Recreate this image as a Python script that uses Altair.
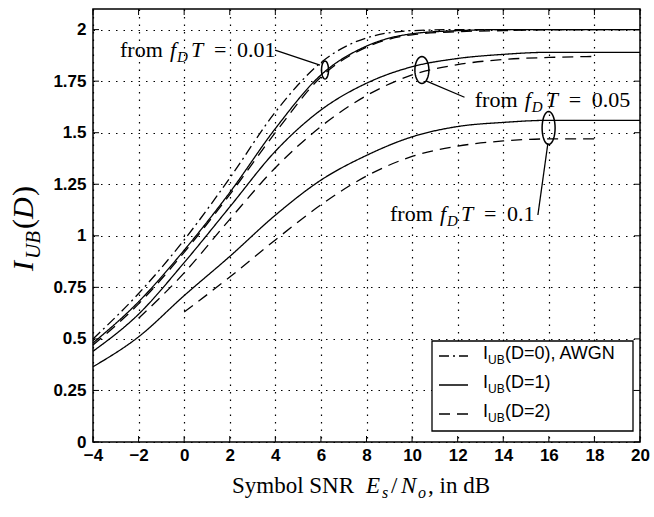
import math
import altair as alt
import pandas as pd

# ---------------- data ----------------
x_ticks = [-4, -2, 0, 2, 4, 6, 8, 10, 12, 14, 16, 18, 20]
y_ticks = [0, 0.25, 0.5, 0.75, 1, 1.25, 1.5, 1.75, 2]

snr_full = [-4, -2, 0, 2, 4, 6, 8, 10, 12, 14, 16, 18, 20]
snr_d2_001 = [-4, -2, 0, 2, 4, 6, 8, 10, 12, 14, 16, 18]
snr_d2_005 = [-2, 0, 2, 4, 6, 8, 10, 12, 14, 16, 18]
snr_d2_01 = [0, 2, 4, 6, 8, 10, 12, 14, 16, 18]

iub_awgn = [0.50, 0.72, 0.98, 1.28, 1.60, 1.84, 1.96, 1.995, 2.0, 2.0, 2.0, 2.0, 2.0]
iub_d1_001 = [0.48, 0.68, 0.93, 1.21, 1.52, 1.78, 1.92, 1.98, 1.995, 2.0, 2.0, 2.0, 2.0]
iub_d2_001 = [0.47, 0.67, 0.92, 1.20, 1.50, 1.77, 1.915, 1.975, 1.99, 1.995, 2.0, 2.0]
iub_d1_005 = [0.44, 0.62, 0.87, 1.14, 1.41, 1.61, 1.74, 1.82, 1.86, 1.88, 1.89, 1.89, 1.89]
iub_d2_005 = [0.60, 0.82, 1.08, 1.33, 1.53, 1.68, 1.78, 1.83, 1.855, 1.865, 1.87]
iub_d1_01 = [0.365, 0.51, 0.71, 0.90, 1.10, 1.27, 1.39, 1.48, 1.53, 1.55, 1.56, 1.56, 1.56]
iub_d2_01 = [0.63, 0.80, 0.98, 1.15, 1.29, 1.385, 1.435, 1.46, 1.47, 1.47]

curves = [
    ("awgn", "dashdot", snr_full, iub_awgn),
    ("d1_001", "solid", snr_full, iub_d1_001),
    ("d2_001", "dashed", snr_d2_001, iub_d2_001),
    ("d1_005", "solid", snr_full, iub_d1_005),
    ("d2_005", "dashed", snr_d2_005, iub_d2_005),
    ("d1_01", "solid", snr_full, iub_d1_01),
    ("d2_01", "dashed", snr_d2_01, iub_d2_01),
]

# annotations (data units)
ann_labels = ["0.01", "0.05", "0.1"]
ann_text_snr = [-2.815, 12.75, 9.03]
ann_text_val = [1.867, 1.625, 1.072]
ann_line_snr1 = [3.99, 10.61, 15.96]
ann_line_val1 = [1.901, 1.751, 1.450]
ann_line_snr2 = [5.96, 12.3, 15.52]
ann_line_val2 = [1.828, 1.672, 1.101]
ell_snr = [6.18, 10.43, 15.99]
ell_val = [1.804, 1.804, 1.523]
ell_w = [7, 14, 13]
ell_h = [18, 27, 33]

legend_labels = ["(D=0), AWGN", "(D=1)", "(D=2)"]
legend_styles = ["dashdot", "solid", "dashed"]

# ---------------- layout ----------------
W, H = 547, 433
PAD = {"left": 93, "top": 9, "right": 14, "bottom": 75}
SERIF = "Liberation Serif"
SANS = "Liberation Sans"
DASH = {"dashdot": [10, 4, 2, 4], "solid": [1, 0], "dashed": [11, 7]}

rows = []
for name, style, xs, ys in curves:
    for x, y in zip(xs, ys):
        rows.append({"curve": name, "style": style, "snr": x, "val": y})
df = pd.DataFrame(rows)

one = pd.DataFrame({"k": [0]})

xscale = alt.Scale(domain=[-4, 20], nice=False, zero=False)
yscale = alt.Scale(domain=[0, 2.1], nice=False, zero=False)

axis_common = dict(
    title=None, grid=True, tickSize=0, domain=False,
    labelFont=SANS, labelFontSize=17, labelFontWeight="bold", labelColor="black",
    gridColor="black", gridDash=[1.5, 6], gridOpacity=1, gridWidth=1.2,
    labelOverlap=False, labelFlush=False,
)

lines = alt.Chart(df).mark_line(color="black", strokeWidth=1.3, interpolate="monotone").encode(
    x=alt.X("snr:Q", scale=xscale,
            axis=alt.Axis(values=x_ticks, format="d", labelPadding=5, **axis_common)),
    y=alt.Y("val:Q", scale=yscale,
            axis=alt.Axis(values=y_ticks, labelExpr="datum.value + ''", labelPadding=7,
                          **axis_common)),
    detail="curve:N",
    strokeDash=alt.StrokeDash(
        "style:N",
        scale=alt.Scale(domain=list(DASH.keys()), range=list(DASH.values())),
        legend=None,
    ),
)

layers = [lines]

# inward ticks on all four sides
xt = pd.DataFrame({"snr": x_ticks})
yt = pd.DataFrame({"val": y_ticks})
TL = 6
for y1, y2 in [(H, H - TL), (0, TL)]:
    layers.append(alt.Chart(xt).mark_rule(color="black", strokeWidth=1).encode(
        x="snr:Q", y=alt.value(y1), y2=alt.value(y2)))
for x1, x2 in [(0, TL), (W, W - TL)]:
    layers.append(alt.Chart(yt).mark_rule(color="black", strokeWidth=1).encode(
        y="val:Q", x=alt.value(x1), x2=alt.value(x2)))

# annotation pointer lines
ptr = pd.DataFrame({"snr": ann_line_snr1, "val": ann_line_val1,
                    "snr2": ann_line_snr2, "val2": ann_line_val2})
layers.append(alt.Chart(ptr).mark_rule(color="black", strokeWidth=1.3).encode(
    x="snr:Q", y="val:Q", x2="snr2:Q", y2="val2:Q"))


def ellipse_path(a, n=36):
    pts = [(a * math.cos(2 * math.pi * i / n), math.sin(2 * math.pi * i / n)) for i in range(n)]
    return "M" + " L".join(f"{px:.3f},{py:.3f}" for px, py in pts) + " Z"


for sx, sy, w, h in zip(ell_snr, ell_val, ell_w, ell_h):
    layers.append(alt.Chart(pd.DataFrame({"snr": [sx], "val": [sy]})).mark_point(
        shape=ellipse_path(w / h), size=h * h, filled=False, color="black",
        strokeWidth=1.5, opacity=1).encode(x="snr:Q", y="val:Q"))

# annotation texts: "from f_D T = num"
for lab, sx, sy in zip(ann_labels, ann_text_snr, ann_text_val):
    anchor = pd.DataFrame({"snr": [sx], "val": [sy]})
    pieces = [("from", 0, 0, 22, "normal"), ("f", 50, 0, 22, "italic"),
              ("D", 57, 5, 15, "italic"), ("T", 71, 0, 22, "italic"),
              ("=", 94, 0, 22, "normal"), (lab, 117, 0, 22, "normal")]
    for t, dx, dy, fs, st in pieces:
        layers.append(alt.Chart(anchor).mark_text(
            text=t, dx=dx, dy=dy, fontSize=fs, fontStyle=st, font=SERIF,
            align="left", baseline="alphabetic", color="black").encode(
            x="snr:Q", y="val:Q"))

# legend (pixel positions relative to plot area)
LX0, LX1, LY0, LY1 = 339, 540, 332, 422
layers.append(alt.Chart(one).mark_rect(fill="white", stroke="black", strokeWidth=1.3).encode(
    x=alt.value(LX0), x2=alt.value(LX1), y=alt.value(LY0), y2=alt.value(LY1)))
row_y = [347, 376, 405]
for lab, st, ry in zip(legend_labels, legend_styles, row_y):
    layers.append(alt.Chart(one).mark_rule(color="black", strokeWidth=1.3, strokeDash=DASH[st]).encode(
        x=alt.value(346), x2=alt.value(375), y=alt.value(ry)))
    for t, xx, dy, fs in [("I", 390, 0, 18), ("UB", 395, 5, 12), (lab, 412, 0, 18)]:
        layers.append(alt.Chart(one).mark_text(
            text=t, dy=dy, fontSize=fs, font=SANS, align="left", baseline="alphabetic",
            color="black").encode(x=alt.value(xx), y=alt.value(ry + 3)))

# x-axis title: Symbol SNR E_s/N_o, in dB
XT_BASE = 484
for t, xx, dy, fs, st in [("Symbol SNR", 139, 0, 23, "normal"), ("E", 273, 0, 23, "italic"),
                          ("s", 289, 5, 16, "italic"), ("/", 298, 0, 23, "normal"),
                          ("N", 308, 0, 23, "italic"), ("o", 325, 5, 16, "italic"),
                          (", in dB", 335, 0, 23, "normal")]:
    layers.append(alt.Chart(one).mark_text(
        text=t, dy=dy, fontSize=fs, fontStyle=st, font=SERIF, align="left",
        baseline="alphabetic", color="black").encode(x=alt.value(xx), y=alt.value(XT_BASE)))

# y-axis title: I_UB(D), rotated
YT_X, YT_Y = -60, 262
for t, dx, dy, fs, st in [("I", 0, 0, 30, "italic"), ("UB", 12, 7, 21, "italic"),
                          ("(", 42, 0, 30, "normal"), ("D", 52, 0, 30, "italic"),
                          (")", 75, 0, 30, "normal")]:
    layers.append(alt.Chart(one).mark_text(
        text=t, dx=dx, dy=dy, angle=270, fontSize=fs, fontStyle=st, font=SERIF,
        align="left", baseline="alphabetic", color="black").encode(
        x=alt.value(YT_X), y=alt.value(YT_Y)))

chart = alt.layer(*layers).properties(
    width=W, height=H, padding=PAD,
    autosize=alt.AutoSizeParams(type="none"),
    background="white",
).configure_view(stroke="black", strokeWidth=1.5)

chart.save("out.html", embed_options={"renderer": "svg", "actions": False})
